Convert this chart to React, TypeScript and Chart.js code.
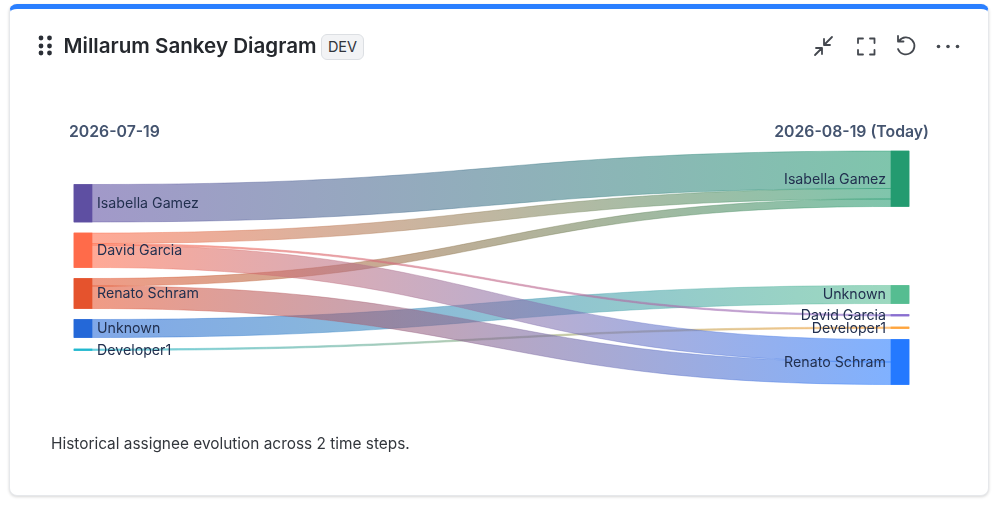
import React, { useEffect, useRef } from "react";
import { Chart, registerables, LineController } from "chart.js";

const columnLabels = ["2026-07-19", "2026-08-19 (Today)"];
const leftNodes = ["Isabella Gamez", "David Garcia", "Renato Schram", "Unknown", "Developer1"];
const rightNodes = ["Isabella Gamez", "Unknown", "David Garcia", "Developer1", "Renato Schram"];
const leftColors = ["#5E4FA2", "#FF6B4A", "#E5532D", "#2468D8", "#22B8CF"];
const rightColors = ["#239B70", "#55BD91", "#8A6FD0", "#FFA53D", "#2479FF"];
// Flows, in stacking order at both ends
const flowSources = [0, 1, 1, 1, 2, 2, 3, 4];
const flowTargets = [0, 0, 2, 4, 0, 4, 1, 3];
const flowValues = [25, 7, 1, 15, 5, 15, 12, 1];
// Blank space above each node, in the same units as the flows
const leftGaps = [29.67, 7.33, 7.33, 7.33, 7.67];
const rightGaps = [7.33, 52.67, 7.33, 7.33, 7.33];

const NODE_W = 18;
const FLOW_ALPHA = 0.58;

function rgba(hex: string, a: number) {
  const n = parseInt(hex.slice(1), 16);
  return `rgba(${(n >> 16) & 255},${(n >> 8) & 255},${n & 255},${a})`;
}

function layoutColumn(count: number, gaps: number[], key: number[]) {
  const tops: number[] = [];
  const heights: number[] = [];
  let y = 0;
  for (let i = 0; i < count; i++) {
    y += gaps[i];
    tops.push(y);
    let h = 0;
    key.forEach((k, f) => {
      if (k === i) h += flowValues[f];
    });
    heights.push(h);
    y += h;
  }
  return { tops, heights };
}

const L = layoutColumn(leftNodes.length, leftGaps, flowSources);
const R = layoutColumn(rightNodes.length, rightGaps, flowTargets);

function flowCenters() {
  const ls = [...L.tops];
  const rs = [...R.tops];
  return flowValues.map((v, f) => {
    const a = ls[flowSources[f]] + v / 2;
    const b = rs[flowTargets[f]] + v / 2;
    ls[flowSources[f]] += v;
    rs[flowTargets[f]] += v;
    return [a, b];
  });
}

class FlowController extends LineController {
  static id = "flow";
  static defaults = { ...LineController.defaults };
  draw() {
    const meta: any = this.getMeta();
    const ctx = this.chart.ctx;
    const ds: any = this.getDataset();
    const [p0, p1] = meta.data;
    const yS: any = meta.yScale;
    const t = Math.abs(yS.getPixelForValue(ds.flowValue) - yS.getPixelForValue(0));
    const x0 = p0.x + NODE_W / 2;
    const x1 = p1.x - NODE_W / 2;
    const m = (x0 + x1) / 2;
    const y0 = p0.y;
    const y1 = p1.y;
    const mk = (a: number) => {
      const g = ctx.createLinearGradient(x0, 0, x1, 0);
      g.addColorStop(0, rgba(ds.fromColor, a));
      g.addColorStop(1, rgba(ds.toColor, a));
      return g;
    };
    ctx.save();
    ctx.beginPath();
    ctx.moveTo(p0.x - NODE_W / 2, y0 - t / 2);
    ctx.lineTo(x0, y0 - t / 2);
    ctx.bezierCurveTo(m, y0 - t / 2, m, y1 - t / 2, x1, y1 - t / 2);
    ctx.lineTo(p1.x + NODE_W / 2, y1 - t / 2);
    ctx.lineTo(p1.x + NODE_W / 2, y1 + t / 2);
    ctx.lineTo(x1, y1 + t / 2);
    ctx.bezierCurveTo(m, y1 + t / 2, m, y0 + t / 2, x0, y0 + t / 2);
    ctx.lineTo(p0.x - NODE_W / 2, y0 + t / 2);
    ctx.closePath();
    ctx.fillStyle = mk(FLOW_ALPHA);
    ctx.fill();
    ctx.strokeStyle = mk(0.4);
    ctx.lineWidth = 1;
    ctx.stroke();
    ctx.restore();
  }
}

Chart.register(...registerables, FlowController as any);

const nodeLabels = {
  id: "nodeLabels",
  afterDatasetsDraw(chart: any) {
    const { ctx, scales } = chart;
    const yS = scales.y;
    const xS = scales.x;
    ctx.save();
    ctx.font = "400 14.2px Inter";
    ctx.fillStyle = "#22304F";
    ctx.textBaseline = "middle";
    ctx.textAlign = "left";
    leftNodes.forEach((n, i) => {
      ctx.fillText(n, xS.getPixelForValue(0) + NODE_W / 2 + 5, yS.getPixelForValue(L.tops[i] + L.heights[i] / 2) + 0.5);
    });
    ctx.textAlign = "right";
    rightNodes.forEach((n, i) => {
      ctx.fillText(n, xS.getPixelForValue(1) - NODE_W / 2 - 5, yS.getPixelForValue(R.tops[i] + R.heights[i] / 2) + 0.5);
    });
    ctx.restore();
  },
};

const FONT = "Inter, sans-serif";

function Icons() {
  const s = { fill: "none", stroke: "#44484F", strokeWidth: 1.8, strokeLinecap: "round" as const, strokeLinejoin: "round" as const };
  return (
    <>
      <svg width={170} height={40} viewBox="0 0 170 40" style={{ position: "absolute", left: 800, top: 27 }}>
        <path {...s} d="M32 10 L24 18 M24 12 V18 H30 M15 28 L22 21 M16 21 H22 V27" />
        <path {...s} d="M58 16 V11.500 H63 M70 11.500 H74.500 V16 M74.500 23 V27.500 H70 M63 27.500 H58 V23" />
        <path {...s} d="M99 14 A8.500 8.500 0 1 1 98 22 M98 9 V14.500 H103.500" />
        <circle cx={138.500} cy={19.5} r={1.8} fill="#44484F" />
        <circle cx={148} cy={19.5} r={1.8} fill="#44484F" />
        <circle cx={157.500} cy={19.5} r={1.8} fill="#44484F" />
      </svg>
      <svg width={20} height={24} viewBox="0 0 20 24" style={{ position: "absolute", left: 36, top: 34 }}>
        {[4, 12, 19].map((y) =>
          [5, 13.5].map((x) => <circle key={`${x}-${y}`} cx={x} cy={y} r={2.4} fill="#2B2F36" />)
        )}
      </svg>
    </>
  );
}

export default function App() {
  const ref = useRef<HTMLCanvasElement>(null);
  useEffect(() => {
    const centers = flowCenters();
    const nodeData = [
      ...L.tops.map((t, i) => ({ x: 0, y: [t, t + L.heights[i]] })),
      ...R.tops.map((t, i) => ({ x: 1, y: [t, t + R.heights[i]] })),
    ];
    const chart = new Chart(ref.current as HTMLCanvasElement, {
      type: "bar",
      data: {
        datasets: [
          {
            label: "Nodes",
            data: nodeData as any,
            backgroundColor: [...leftColors, ...rightColors],
            barThickness: NODE_W,
            borderWidth: 0,
            order: 0,
          } as any,
          ...flowValues.map(
            (v, f) =>
              ({
                type: "flow",
                label: `${leftNodes[flowSources[f]]} → ${rightNodes[flowTargets[f]]}`,
                data: [
                  { x: 0, y: centers[f][0] },
                  { x: 1, y: centers[f][1] },
                ],
                flowValue: v,
                fromColor: leftColors[flowSources[f]],
                toColor: rightColors[flowTargets[f]],
                order: 1,
              } as any)
          ),
        ],
      },
      options: {
        responsive: false,
        animation: false,
        events: [],
        layout: { autoPadding: false, padding: { left: 69, right: 70, top: 120, bottom: 105 } },
        plugins: { legend: { display: false }, tooltip: { enabled: false } },
        scales: {
          x: {
            type: "linear",
            position: "top",
            min: -14 / 817,
            max: 1 + 29 / 817,
            offset: false,
            grid: { display: false, drawTicks: false, offset: false },
            border: { display: false },
            afterBuildTicks: (s: any) => {
              s.ticks = [{ value: s.min }, { value: s.max }];
            },
            afterFit: (s: any) => {
              s.height = 20;
            },
            ticks: {
              align: "inner",
              autoSkip: false,
              maxRotation: 0,
              padding: -1.5,
              color: "#44546F",
              font: { family: FONT, size: 15.8, weight: 600 },
              callback: (_v: any, i: number) => columnLabels[i],
            },
          },
          y: { type: "linear", display: false, reverse: true, min: 0, max: 173.33 },
        },
      } as any,
      plugins: [nodeLabels],
    });
    return () => chart.destroy();
  }, []);
  return (
    <div style={{ position: "fixed", left: 0, top: 0, width: 999, height: 505, background: "#fff", fontFamily: FONT, overflow: "hidden" }}>
      <div
        style={{
          position: "absolute",
          left: 9,
          top: 4,
          width: 980,
          height: 491.5,
          boxSizing: "border-box",
          background: "#fff",
          border: "1px solid #E6E8EB",
          borderTop: "5px solid #2A7FFF",
          borderRadius: 8,
          boxShadow: "0 1px 3px rgba(0,0,0,0.16)",
        }}
      />
      <canvas ref={ref} width={999} height={505} style={{ position: "absolute", left: 0, top: 0, display: "block" }} />
      <Icons />
      <div style={{ position: "absolute", left: 63.500, top: 32, fontSize: 20.6, fontWeight: 600, lineHeight: "28px", color: "#25282D", whiteSpace: "nowrap" }}>
        Millarum Sankey Diagram
      </div>
      <div
        style={{
          position: "absolute",
          left: 321,
          top: 34,
          width: 43,
          height: 26,
          boxSizing: "border-box",
          background: "#F2F3F5",
          border: "1px solid #DCDFE3",
          borderRadius: 6,
          fontSize: 14.5,
          lineHeight: "24px",
          textAlign: "center",
          color: "#30343B",
        }}
      >
        DEV
      </div>
      <div style={{ position: "absolute", left: 51, top: 434, fontSize: 15.4, lineHeight: "20px", color: "#32363C", whiteSpace: "nowrap" }}>
        Historical assignee evolution across 2 time steps.
      </div>
    </div>
  );
}
